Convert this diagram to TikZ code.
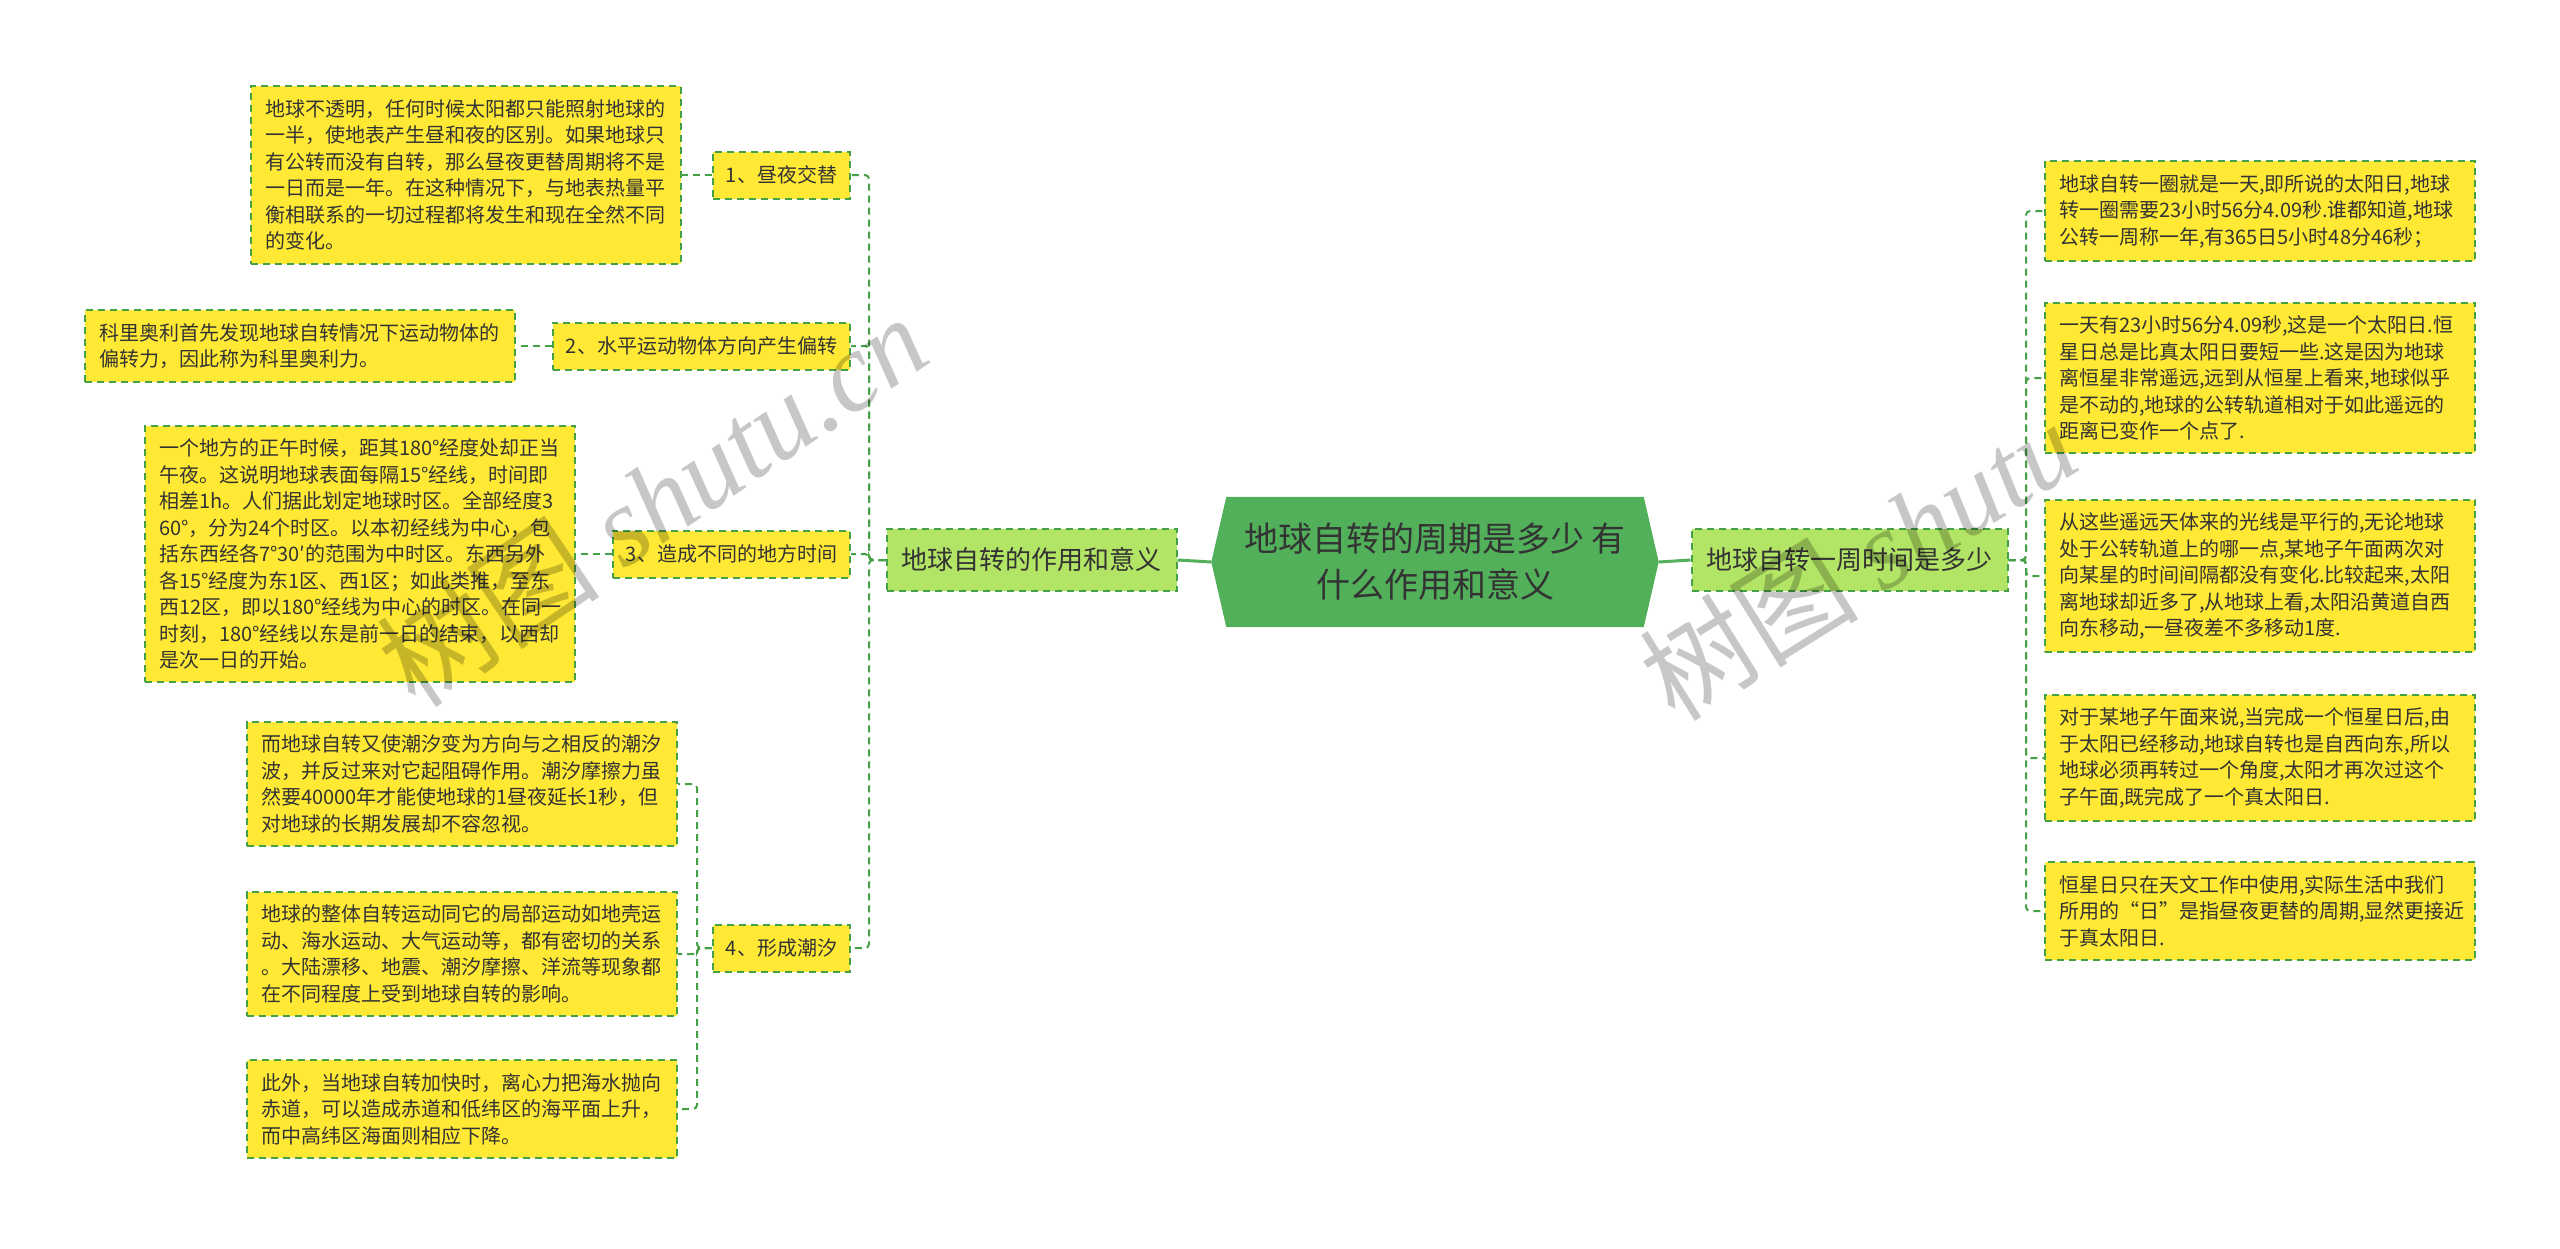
\documentclass[tikz,border=0pt]{standalone}
\usepackage{fontspec}
\setmainfont{Noto Sans CJK SC}
\newfontfamily\wmserif{Liberation Serif}
\usetikzlibrary{backgrounds}
\definecolor{rootfill}{HTML}{52AF5A}
\definecolor{mainfill}{HTML}{B2E465}
\definecolor{leaffill}{HTML}{FFE934}
\definecolor{edgegreen}{HTML}{46A046}
\definecolor{txt}{HTML}{333333}
\tikzset{
 box/.style={draw=edgegreen, line width=2pt, dash pattern=on 7pt off 5pt, text=txt},
 leafbox/.style={box, fill=leaffill, text width=402pt, align=left, inner xsep=14pt, inner ysep=13pt, font=\fontsize{20pt}{26.5pt}\selectfont},
 subbox/.style={box, fill=leaffill, inner xsep=13pt, minimum height=47pt, font=\fontsize{20pt}{24pt}\selectfont},
 mainbox/.style={box, fill=mainfill, inner xsep=15pt, minimum height=62pt, font=\fontsize{26pt}{30pt}\selectfont},
 conn/.style={draw=edgegreen, line width=2pt, dash pattern=on 7pt off 5pt, rounded corners=4pt},
 solidconn/.style={draw=rootfill, line width=3pt},
 wm/.style={text=black, opacity=0.22}
}
\begin{document}
\begin{tikzpicture}[x=1pt,y=-1pt]
\useasboundingbox (0,0) rectangle (2560,1248);
% root
\node[text=txt, align=center, minimum width=447pt, minimum height=130pt, inner sep=0pt, font=\fontsize{34pt}{46pt}\selectfont] (root) at (1435,562) {地球自转的周期是多少 有\\什么作用和意义};
\begin{scope}[on background layer]
\fill[white] (0,0) rectangle (2560,1248);
\fill[rootfill] (root.west) -- ([xshift=15pt]root.north west) -- ([xshift=-15pt]root.north east) -- (root.east) -- ([xshift=-15pt]root.south east) -- ([xshift=15pt]root.south west) -- cycle;
\end{scope}
% main nodes
\node[mainbox] (lmain) at (1031.5,560) {地球自转的作用和意义};
\node[mainbox] (rmain) at (1849.5,560) {地球自转一周时间是多少};
% left subs
\node[subbox, anchor=east] (s1) at (851,175) {1、昼夜交替};
\node[subbox, anchor=east] (s2) at (851,346) {2、水平运动物体方向产生偏转};
\node[subbox, anchor=east] (s3) at (851,554) {3、造成不同的地方时间};
\node[subbox, anchor=east] (s4) at (851,948) {4、形成潮汐};
% left leaves
\node[leafbox, anchor=east] (l1) at (682,175) {地球不透明，任何时候太阳都只能照射地球的\\一半，使地表产生昼和夜的区别。如果地球只\\有公转而没有自转，那么昼夜更替周期将不是\\一日而是一年。在这种情况下，与地表热量平\\衡相联系的一切过程都将发生和现在全然不同\\的变化。};
\node[leafbox, anchor=east] (l2) at (516,346) {科里奥利首先发现地球自转情况下运动物体的\\偏转力，因此称为科里奥利力。};
\node[leafbox, anchor=east] (l3) at (576,554) {一个地方的正午时候，距其180°经度处却正当\\午夜。这说明地球表面每隔15°经线，时间即\\相差1h。人们据此划定地球时区。全部经度3\\60°，分为24个时区。以本初经线为中心，包\\括东西经各7°30′的范围为中时区。东西另外\\各15°经度为东1区、西1区；如此类推，至东\\西12区，即以180°经线为中心的时区。在同一\\时刻，180°经线以东是前一日的结束，以西却\\是次一日的开始。};
\node[leafbox, anchor=east] (l4a) at (678,784) {而地球自转又使潮汐变为方向与之相反的潮汐\\波，并反过来对它起阻碍作用。潮汐摩擦力虽\\然要40000年才能使地球的1昼夜延长1秒，但\\对地球的长期发展却不容忽视。};
\node[leafbox, anchor=east] (l4b) at (678,954) {地球的整体自转运动同它的局部运动如地壳运\\动、海水运动、大气运动等，都有密切的关系\\。大陆漂移、地震、潮汐摩擦、洋流等现象都\\在不同程度上受到地球自转的影响。};
\node[leafbox, anchor=east] (l4c) at (678,1109) {此外，当地球自转加快时，离心力把海水抛向\\赤道，可以造成赤道和低纬区的海平面上升，\\而中高纬区海面则相应下降。};
% right leaves
\node[leafbox, anchor=west] (r1) at (2044,211) {地球自转一圈就是一天,即所说的太阳日,地球\\转一圈需要23小时56分4.09秒.谁都知道,地球\\公转一周称一年,有365日5小时48分46秒；};
\node[leafbox, anchor=west] (r2) at (2044,378) {一天有23小时56分4.09秒,这是一个太阳日.恒\\星日总是比真太阳日要短一些.这是因为地球\\离恒星非常遥远,远到从恒星上看来,地球似乎\\是不动的,地球的公转轨道相对于如此遥远的\\距离已变作一个点了.};
\node[leafbox, anchor=west] (r3) at (2044,576) {从这些遥远天体来的光线是平行的,无论地球\\处于公转轨道上的哪一点,某地子午面两次对\\向某星的时间间隔都没有变化.比较起来,太阳\\离地球却近多了,从地球上看,太阳沿黄道自西\\向东移动,一昼夜差不多移动1度.};
\node[leafbox, anchor=west] (r4) at (2044,758) {对于某地子午面来说,当完成一个恒星日后,由\\于太阳已经移动,地球自转也是自西向东,所以\\地球必须再转过一个角度,太阳才再次过这个\\子午面,既完成了一个真太阳日.};
\node[leafbox, anchor=west] (r5) at (2044,911) {恒星日只在天文工作中使用,实际生活中我们\\所用的“日”是指昼夜更替的周期,显然更接近\\于真太阳日.};
% connectors
\draw[solidconn] (root.west) -- (lmain.east);
\draw[solidconn] (root.east) -- (rmain.west);
\coordinate (tl) at (869,560);
\foreach \s in {s1,s2,s3,s4} \draw[conn] (lmain.west) -- (tl) |- (\s.east);
\draw[conn] (s1.west) -- (l1.east);
\draw[conn] (s2.west) -- (l2.east);
\draw[conn] (s3.west) -- (l3.east);
\coordinate (t4) at (697,948);
\foreach \l in {l4a,l4b,l4c} \draw[conn] (s4.west) -- (t4) |- (\l.east);
\coordinate (tr) at (2026,560);
\foreach \r in {r1,r2,r3,r4,r5} \draw[conn] (rmain.east) -- (tr) |- (\r.west);
% watermarks
\node[wm, rotate=34, font=\fontsize{112pt}{112pt}\selectfont] (wm1) at (652,500) {树图 {\wmserif\itshape shutu.cn}};
\node[wm, rotate=32, font=\fontsize{110pt}{110pt}\selectfont] (wm2) at (1858,560) {树图 {\wmserif\itshape shutu}};
\end{tikzpicture}
\end{document}
